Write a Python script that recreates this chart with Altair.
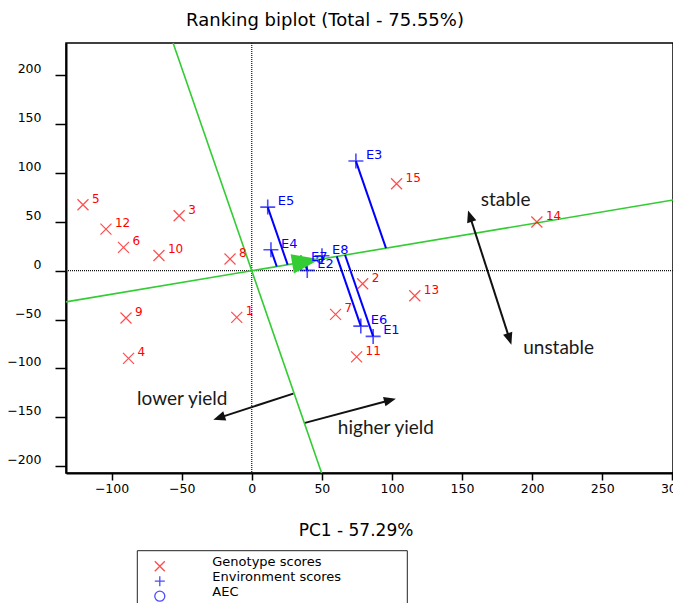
import math
import altair as alt
import pandas as pd

# ---------------- data ----------------
TITLE = "Ranking biplot (Total - 75.55%)"
X_TITLE = "PC1 - 57.29%"

geno_labels = ["1", "2", "3", "4", "5", "6", "7", "8", "9", "10", "11", "12", "13", "14", "15"]
geno_pc1 = [-10.7, 79.1, -51.8, -87.9, -120.4, -91.5, 59.8, -15.5, -89.7, -66.2, 74.8, -104.0, 116.3, 203.4, 103.3]
geno_pc2 = [-47.8, -13.3, 56.2, -89.7, 67.5, 23.8, -44.7, 12.0, -48.4, 15.6, -88.2, 42.6, -25.6, 49.8, 89.0]

env_labels = ["E1", "E2", "E3", "E4", "E5", "E6", "E7", "E8"]
env_pc1 = [86.6, 39.6, 74.3, 13.7, 11.4, 77.8, 35.1, 50.1]
env_pc2 = [-67.2, 0.3, 112.2, 21.5, 65.1, -56.7, 8.2, 15.3]

aec_pc1 = 48.6
aec_pc2 = 11.7

note_text = ["stable", "unstable", "lower yield", "higher yield"]
note_pc1 = [181.1, 218.9, -49.6, 95.7]
note_pc2 = [71.9, -78.7, -131.0, -160.5]

arrow_from_pc1 = [29.6, 38.0, 154.3]
arrow_from_pc2 = [-125.8, -155.7, 61.7]
arrow_to_pc1 = [-27.4, 102.8, 185.2]
arrow_to_pc2 = [-152.4, -130.9, -75.7]
arrow_double = [False, False, True]

legend_items = ["Genotype scores", "Environment scores", "AEC"]

x_ticks = [-100, -50, 0, 50, 100, 150, 200, 250, 300]
y_ticks = [-200, -150, -100, -50, 0, 50, 100, 150, 200]

# ---------------- layout ----------------
W, H = 607, 430
X_DOM = [-132.5, 300.5]
Y_DOM = [-207.0, 233.0]
sx = W / (X_DOM[1] - X_DOM[0])
sy = H / (Y_DOM[1] - Y_DOM[0])

RED = "#ff0000"
BLUE = "#0000ff"
GREEN = "#33cc33"
FONT = "DejaVu Sans"

X_PATH = "M-1,-1L1,1M-1,1L1,-1"
PLUS_PATH = "M-1,0L1,0M0,-1L0,1"
HEAD_PATH = "M0,0L-0.8,2L0.8,2Z"
AEC_HEAD_PATH = "M0,0L-0.7,2L0.7,2Z"

xs = alt.Scale(domain=X_DOM, nice=False, zero=False)
ys = alt.Scale(domain=Y_DOM, nice=False, zero=False)
x_axis = alt.Axis(values=x_ticks, title=None, grid=False, tickSize=7, labelPadding=2,
                  labelFont=FONT, labelFontSize=12.5, labelColor="black", labelFlush=False,
                  domainColor="black", domainWidth=2, tickColor="black", tickWidth=1.5)
y_axis = alt.Axis(values=y_ticks, title=None, grid=False, tickSize=11, labelPadding=14,
                  labelFont=FONT, labelFontSize=12.5, labelColor="black",
                  labelBaseline="alphabetic", labelOffset=-2.5, labelFlush=False,
                  domainColor="black", domainWidth=2, tickColor="black", tickWidth=1.5)


def X(f):
    return alt.X(f, type="quantitative", scale=xs, axis=x_axis)


def Y(f):
    return alt.Y(f, type="quantitative", scale=ys, axis=y_axis)


color_scale = alt.Scale(domain=legend_items, range=[RED, BLUE, BLUE])
shape_scale = alt.Scale(domain=legend_items, range=[X_PATH, PLUS_PATH, "circle"])

# ---------------- derived frames ----------------
geno = pd.DataFrame({"x": geno_pc1, "y": geno_pc2, "label": geno_labels, "kind": legend_items[0]})

slope = aec_pc2 / aec_pc1
den = 1 + slope * slope
fx = [(ex + slope * ey) / den for ex, ey in zip(env_pc1, env_pc2)]
fy = [slope * v for v in fx]
env = pd.DataFrame({"x": env_pc1, "y": env_pc2, "fx": fx, "fy": fy, "label": env_labels,
                    "kind": legend_items[1]})
aec = pd.DataFrame({"x": [aec_pc1], "y": [aec_pc2], "kind": [legend_items[2]],
                    "ang": [math.degrees(math.atan2(aec_pc1 * sx, aec_pc2 * sy)) % 360]})

abs_line = pd.DataFrame({"x": [X_DOM[0]], "y": [slope * X_DOM[0]],
                         "x2": [X_DOM[1]], "y2": [slope * X_DOM[1]]})
ord_line = pd.DataFrame({"x": [-slope * Y_DOM[1]], "y": [Y_DOM[1]],
                         "x2": [-slope * Y_DOM[0]], "y2": [Y_DOM[0]]})

rules, heads = [], []
BACK = 9
for x0, y0, x1, y1, dbl in zip(arrow_from_pc1, arrow_from_pc2, arrow_to_pc1, arrow_to_pc2, arrow_double):
    dxs, dys = (x1 - x0) * sx, (y1 - y0) * sy
    L = math.hypot(dxs, dys)
    ux, uy = dxs / L, dys / L
    ang = math.degrees(math.atan2(dxs, dys)) % 360
    ex, ey = x1 - ux * BACK / sx, y1 - uy * BACK / sy
    heads.append({"x": x1, "y": y1, "ang": ang})
    if dbl:
        sx0, sy0 = x0 + ux * BACK / sx, y0 + uy * BACK / sy
        heads.append({"x": x0, "y": y0, "ang": (ang + 180) % 360})
    else:
        sx0, sy0 = x0, y0
    rules.append({"x": sx0, "y": sy0, "x2": ex, "y2": ey})
rules = pd.DataFrame(rules)
heads = pd.DataFrame(heads)

notes = pd.DataFrame({"x": note_pc1, "y": note_pc2, "t": note_text})
one = pd.DataFrame({"a": [0]})

# ---------------- layers ----------------
zero_v = alt.Chart(one).mark_rule(color="#111", strokeWidth=1.2, strokeDash=[1, 1]).encode(
    x=alt.datum(0, type="quantitative", scale=xs, axis=x_axis))
zero_h = alt.Chart(one).mark_rule(color="#111", strokeWidth=1.2, strokeDash=[1, 1]).encode(
    y=alt.datum(0, type="quantitative", scale=ys, axis=y_axis))

green_abs = alt.Chart(abs_line).mark_rule(color=GREEN, strokeWidth=1.6).encode(
    x=X("x"), y=Y("y"), x2="x2", y2="y2")
green_ord = alt.Chart(ord_line).mark_rule(color=GREEN, strokeWidth=1.6).encode(
    x=X("x"), y=Y("y"), x2="x2", y2="y2")

env_proj = alt.Chart(env).mark_rule(color=BLUE, strokeWidth=2).encode(
    x=X("x"), y=Y("y"), x2="fx", y2="fy")

geno_pts = alt.Chart(geno).mark_point(filled=False, size=121, strokeWidth=1.2).encode(
    x=X("x"), y=Y("y"),
    color=alt.Color("kind:N", scale=color_scale, title=None),
    shape=alt.Shape("kind:N", scale=shape_scale, title=None))
env_pts = alt.Chart(env).mark_point(filled=False, size=225, strokeWidth=1.6).encode(
    x=X("x"), y=Y("y"),
    color=alt.Color("kind:N", scale=color_scale, title=None),
    shape=alt.Shape("kind:N", scale=shape_scale, title=None))
aec_pt = alt.Chart(aec).mark_point(filled=False, size=36, strokeWidth=1.5).encode(
    x=X("x"), y=Y("y"),
    color=alt.Color("kind:N", scale=color_scale, title=None),
    shape=alt.Shape("kind:N", scale=shape_scale, title=None))
aec_arrow = alt.Chart(aec).mark_point(shape=AEC_HEAD_PATH, filled=True, fill=GREEN, color=GREEN,
                                      opacity=1, size=784, strokeWidth=0).encode(
    x=X("x"), y=Y("y"), angle=alt.Angle("ang:Q", scale=None))

geno_txt = alt.Chart(geno).mark_text(align="left", baseline="middle", dx=9, dy=-6, font=FONT,
                                     fontSize=12, color=RED).encode(x=X("x"), y=Y("y"), text="label:N")
env_txt = alt.Chart(env).mark_text(align="left", baseline="middle", dx=10, dy=-6, font=FONT,
                                   fontSize=13, color=BLUE).encode(x=X("x"), y=Y("y"), text="label:N")

note_txt = alt.Chart(notes).mark_text(align="center", baseline="middle", font="Lato", fontSize=19,
                                      color="#1a1a1a").encode(x=X("x"), y=Y("y"), text="t:N")
arrow_rules = alt.Chart(rules).mark_rule(color="#111", strokeWidth=2).encode(
    x=X("x"), y=Y("y"), x2="x2", y2="y2")
arrow_heads = alt.Chart(heads).mark_point(shape=HEAD_PATH, filled=True, fill="#111", color="#111",
                                          opacity=1, size=144, strokeWidth=0).encode(
    x=X("x"), y=Y("y"), angle=alt.Angle("ang:Q", scale=None))

legend_box = alt.Chart(one).mark_rect(fill=None, stroke="#222", strokeWidth=1).encode(
    x=alt.value(71.3), x2=alt.value(341.3), y=alt.value(507.7), y2=alt.value(600))

title_txt = alt.Chart(pd.DataFrame({"t": [TITLE]})).mark_text(
    align="center", baseline="middle", font=FONT, fontSize=18, color="black").encode(
    x=alt.value(259), y=alt.value(-22), text="t:N")
xtitle_txt = alt.Chart(pd.DataFrame({"t": [X_TITLE]})).mark_text(
    align="center", baseline="middle", font=FONT, fontSize=17, color="black").encode(
    x=alt.value(290), y=alt.value(488), text="t:N")

chart = alt.layer(
    zero_v, zero_h, green_abs, green_ord, env_proj, geno_pts, env_pts, aec_pt, aec_arrow,
    geno_txt, env_txt, note_txt, arrow_rules, arrow_heads, legend_box, title_txt, xtitle_txt
).properties(
    width=W, height=H,
    autosize=alt.AutoSizeParams(type="none"),
    padding={"left": 58, "top": 35, "right": 0, "bottom": 130},
).configure_view(
    stroke="black", strokeWidth=1.5
).configure_legend(
    orient="none", legendX=87.3, legendY=516.7, padding=0, labelOffset=46,
    symbolSize=100, symbolStrokeWidth=1.3, labelFont=FONT, labelFontSize=13,
    labelColor="black", rowPadding=-6.2, labelBaseline="alphabetic"
)

chart.save("out.html", embed_options={"renderer": "svg", "actions": False})
